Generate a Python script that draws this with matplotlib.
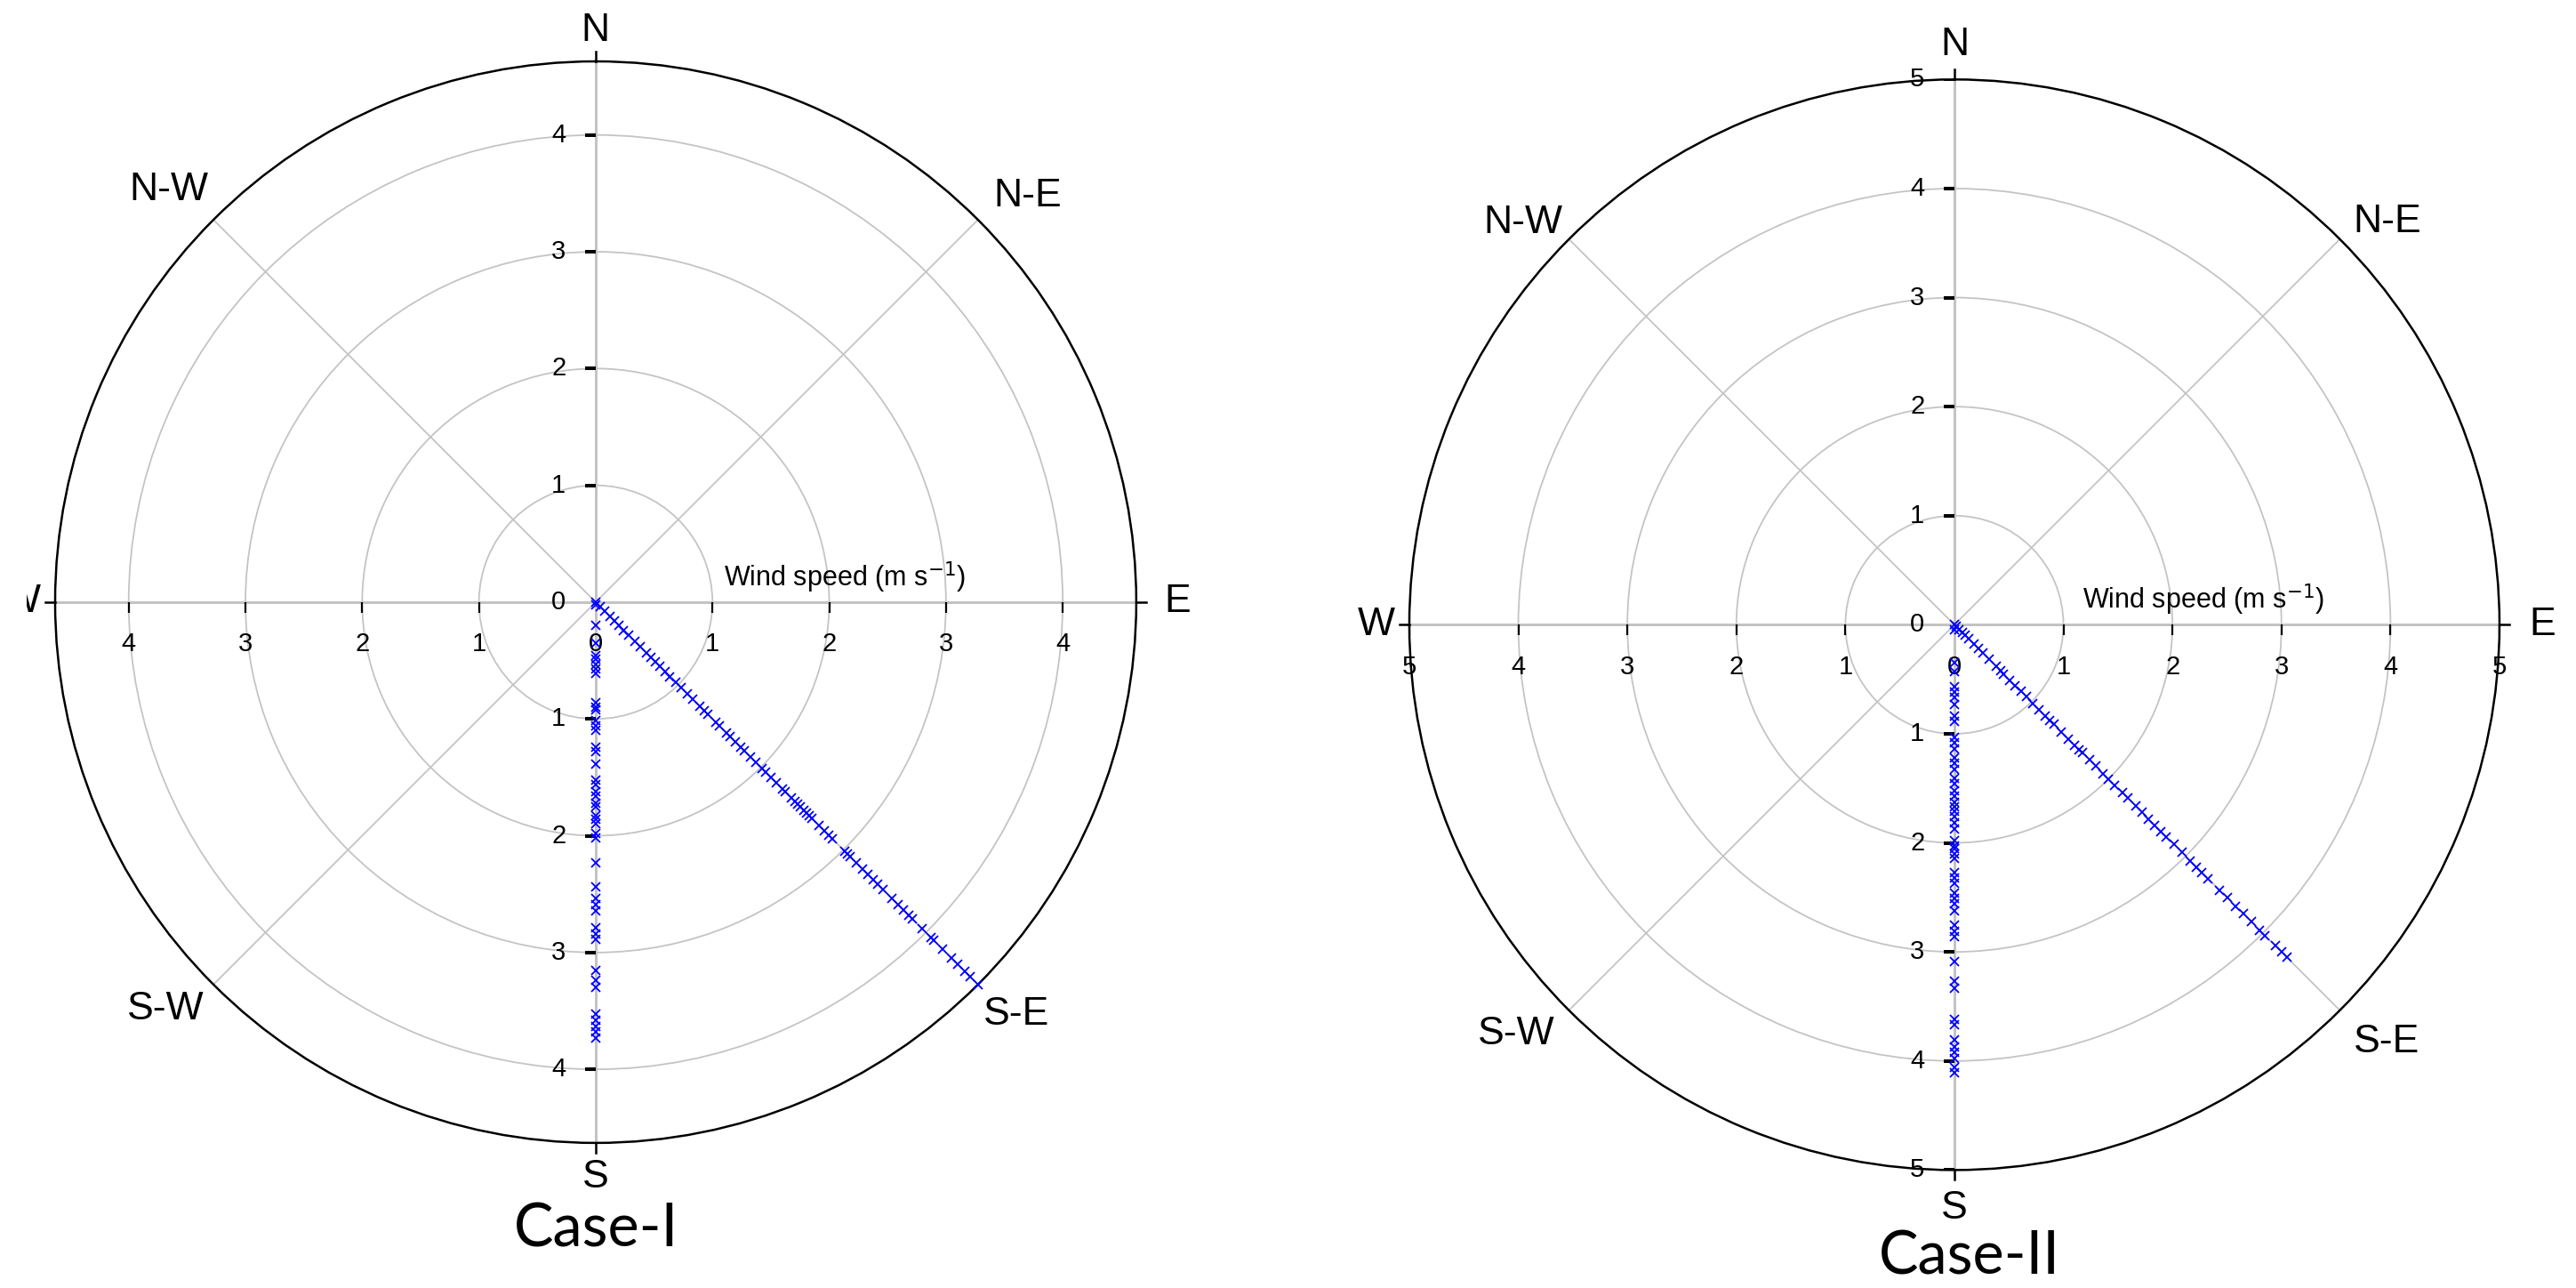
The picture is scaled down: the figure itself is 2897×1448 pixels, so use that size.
import numpy as np
import matplotlib
matplotlib.use("Agg")
import matplotlib.pyplot as plt
from matplotlib.transforms import Bbox, TransformedBbox

plt.rcParams["font.family"] = ["Liberation Sans", "DejaVu Sans"]

# wind speed (m/s) of every sample, grouped by direction
case1_south = [0.02, 0.20, 0.35, 0.46, 0.49, 0.53, 0.57, 0.61, 0.86, 0.90, 0.92,
               1.01, 1.06, 1.10, 1.24, 1.28, 1.39, 1.52, 1.56, 1.62, 1.66, 1.72,
               1.75, 1.83, 1.86, 1.90, 1.98, 2.02, 2.23, 2.44, 2.54, 2.59, 2.64,
               2.79, 2.84, 2.89, 3.15, 3.24, 3.30, 3.53, 3.58, 3.63, 3.68, 3.73]
case1_southeast = [0.00, 0.05, 0.11, 0.17, 0.23, 0.28, 0.34, 0.40, 0.47, 0.54, 0.61,
                   0.67, 0.72, 0.78, 0.84, 0.90, 0.97, 1.04, 1.11, 1.18, 1.26, 1.31,
                   1.36, 1.45, 1.50, 1.58, 1.63, 1.69, 1.76, 1.80, 1.87, 1.94, 2.01,
                   2.06, 2.12, 2.19, 2.26, 2.30, 2.37, 2.41, 2.45, 2.48, 2.52, 2.55,
                   2.59, 2.62, 2.70, 2.77, 2.82, 2.87, 3.02, 3.05, 3.08, 3.16, 3.23,
                   3.30, 3.36, 3.41, 3.48, 3.59, 3.66, 3.73, 3.79, 3.84, 3.95, 4.06,
                   4.09, 4.20, 4.31, 4.38, 4.47, 4.54, 4.63]
case2_south = [0.00, 0.05, 0.35, 0.43, 0.57, 0.62, 0.67, 0.73, 0.84, 0.89, 1.03,
               1.08, 1.14, 1.22, 1.27, 1.33, 1.41, 1.46, 1.52, 1.57, 1.63, 1.67,
               1.71, 1.76, 1.82, 1.87, 1.98, 2.03, 2.05, 2.10, 2.14, 2.27, 2.32,
               2.37, 2.46, 2.51, 2.56, 2.62, 2.75, 2.81, 2.86, 3.09, 3.27, 3.33,
               3.62, 3.67, 3.81, 3.87, 3.92, 3.98, 4.06, 4.11]
case2_southeast = [0.02, 0.06, 0.10, 0.14, 0.18, 0.25, 0.31, 0.37, 0.45, 0.54, 0.60,
                   0.64, 0.72, 0.79, 0.86, 0.93, 1.02, 1.10, 1.18, 1.24, 1.29, 1.39,
                   1.48, 1.56, 1.62, 1.66, 1.75, 1.83, 1.93, 2.00, 2.08, 2.18, 2.25,
                   2.35, 2.43, 2.52, 2.60, 2.68, 2.75, 2.85, 2.95, 3.06, 3.14, 3.21,
                   3.29, 3.44, 3.54, 3.65, 3.75, 3.85, 3.96, 4.03, 4.16, 4.24, 4.31]

directions = ["N", "N-E", "E", "S-E", "S", "S-W", "W", "N-W"]
dir_angles = [0, 45, 90, 135, 180, 225, 270, 315]
# label offsets (points) from the outer circle, one set per chart
dir_offsets = [
    [(0, 25), (40, 19), (33, 0), (31, -24), (0, -28), (-39, -20), (-27, 0), (-36, 24)],
    [(0, 28), (38, 14), (35, 0), (38, -26), (0, -31), (-43, -19), (-27, 0), (-37, 13)],
]

titles = ["Case-I", "Case-II"]
rmaxes = [4.63, 5.0]
tick_labels = [[0, 1, 2, 3, 4], [0, 1, 2, 3, 4, 5]]

fig = plt.figure(figsize=(28.97, 14.48), dpi=100)
rects = [[0.0214, 0.1126, 0.4197, 0.8398], [0.5471, 0.0916, 0.4232, 0.8467]]
title_pos = [(0.2313, 0.0318), (0.7645, 0.0104)]
data = [(case1_south, case1_southeast), (case2_south, case2_southeast)]

for i in range(2):
    ax = fig.add_axes(rects[i], projection="polar")
    rmax = rmaxes[i]
    ticks = tick_labels[i]
    south, southeast = data[i]

    ax.set_theta_zero_location("N")
    ax.set_theta_direction(-1)
    ax.set_rlim(0, rmax)
    ax.set_xticks(np.deg2rad(dir_angles))
    ax.set_xticklabels([])
    ax.set_yticks([1, 2, 3, 4])
    ax.set_yticklabels([])
    ax.grid(color="#c4c4c4", lw=1.3)
    ax.spines["polar"].set_color("k")
    ax.spines["polar"].set_linewidth(1.8)

    # main axis lines
    for th in [0, 90, 180, 270]:
        ax.plot([np.deg2rad(th)] * 2, [0, rmax], color="#bcbcbc", lw=2, zorder=1)
        ax.plot([np.deg2rad(th)] * 2, [rmax, rmax * 1.018], color="k", lw=1.8,
                clip_on=False, zorder=3)

    # radial ticks + labels on N/S (left side) and E/W (below)
    for th, mk, off in [(0, 0, (-30, 0)), (180, 0, (-30, 0)),
                        (90, 3, (0, -34)), (270, 3, (0, -34))]:
        t = np.deg2rad(th)
        vals = ticks if th in (0, 90) else ticks[1:]
        marks = [v for v in vals if v > 0]
        ax.plot([t] * len(marks), marks, ls="none", marker=mk, ms=8.5, mew=1.6,
                color="k", zorder=3)
        for v in vals:
            ax.annotate(str(v), xy=(t, v), xytext=off, textcoords="offset points",
                        ha="center", va="center", fontsize=21, annotation_clip=False)

    ax.annotate("Wind speed (m s$^{-1}$)", xy=(np.pi / 2, 0), xytext=(104, 6),
                textcoords="offset points", ha="left", va="bottom", fontsize=22)

    # compass labels
    for name, ang, off in zip(directions, dir_angles, dir_offsets[i]):
        txt = ax.annotate(name, xy=(np.deg2rad(ang), rmax), xytext=off,
                          textcoords="offset points", ha="center", va="center",
                          fontsize=32, annotation_clip=False)
        if i == 0 and name == "W":
            txt.set_clip_box(TransformedBbox(Bbox([[30 / 2897, 0], [1, 1]]), fig.transFigure))
            txt.set_clip_on(True)

    ax.plot(np.full(len(south), np.pi), south, ls="none", marker="x",
            color="#0000ff", ms=7.5, mew=1.3, zorder=4, clip_on=False)
    ax.plot(np.full(len(southeast), np.deg2rad(135)), southeast, ls="none", marker="x",
            color="#0000ff", ms=7.5, mew=1.3, zorder=4, clip_on=False)

    fig.text(title_pos[i][0], title_pos[i][1], titles[i], ha="center", va="baseline",
             fontsize=48, family=["Lato", "DejaVu Sans"])

fig.savefig("out.png", dpi=100, facecolor="white")
